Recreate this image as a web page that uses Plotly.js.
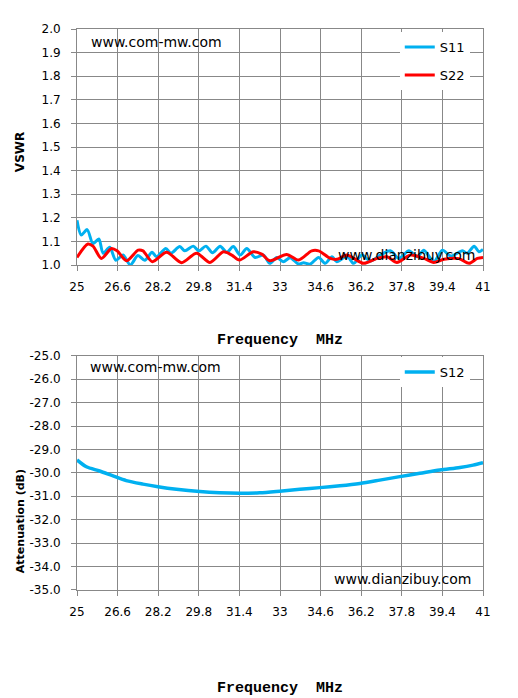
<!DOCTYPE html>
<html>
<head>
<meta charset="utf-8">
<script src="https://cdn.plot.ly/plotly-3.0.1.min.js"></script>
<style>html,body{margin:0;padding:0;background:#fff;}#chart{width:518px;height:698px;}</style>
</head>
<body>
<div id="chart"></div>
<script>
// Frequency tick labels (MHz)
const freqTicks = [25, 26.6, 28.2, 29.8, 31.4, 33, 34.6, 36.2, 37.8, 39.4, 41];
const freqTickText = ["25","26.6","28.2","29.8","31.4","33","34.6","36.2","37.8","39.4","41"];

// VSWR S11
const s11Freq = [25,25.17,25.4,25.63,25.86,26.03,26.29,26.53,26.82,27.1,27.4,27.67,27.96,28.13,28.5,28.7,29.05,29.25,29.58,29.8,30.08,30.34,30.64,30.9,31.16,31.43,31.69,32.02,32.35,32.6,32.87,33.13,33.4,33.73,33.93,34.19,34.52,34.78,35.05,35.24,35.64,35.9,36.23,36.56,36.96,37.35,37.68,38.08,38.41,38.67,39.06,39.4,39.73,40.19,40.38,40.65,40.84,41];
const s11Vswr = [1.19,1.127,1.15,1.09,1.11,1.05,1.075,1.02,1.042,1.0,1.04,1.02,1.054,1.035,1.07,1.05,1.078,1.06,1.08,1.06,1.08,1.052,1.08,1.054,1.078,1.042,1.07,1.032,1.042,1.007,1.032,1.014,1.031,1.004,1.01,1.004,1.032,1.007,1.035,1.014,1.038,1.007,1.042,1.017,1.042,1.06,1.028,1.06,1.035,1.063,1.014,1.063,1.038,1.06,1.05,1.08,1.056,1.066];

// VSWR S22
const s22Freq = [25,25.43,25.63,25.96,26.36,26.58,26.95,27.41,27.6,27.97,28.53,29.12,29.71,30.24,30.77,31.1,31.4,31.95,32.28,32.6,33.26,33.73,34.25,34.52,34.98,35.24,35.64,36.3,36.82,37.22,37.61,38.14,38.67,39.06,39.46,40.05,40.45,40.78,41];
const s22Vswr = [1.032,1.089,1.08,1.028,1.07,1.06,1.018,1.063,1.06,1.014,1.054,1.01,1.05,1.011,1.056,1.042,1.021,1.056,1.046,1.018,1.045,1.021,1.06,1.06,1.028,1.024,1.042,1.007,1.028,1.035,1.011,1.042,1.028,1.011,1.024,1.027,1.007,1.028,1.032];

// Attenuation S12 (dB)
const s12Freq = [25,25.37,25.89,26.42,26.94,27.6,28.19,28.92,29.84,30.62,31.41,32.2,32.99,33.78,34.57,35.36,36.15,36.93,37.72,38.51,39.3,40.09,40.61,41];
const s12Atten = [-29.45,-29.74,-29.92,-30.13,-30.33,-30.48,-30.59,-30.70,-30.80,-30.85,-30.87,-30.85,-30.78,-30.70,-30.63,-30.55,-30.45,-30.31,-30.16,-30.02,-29.88,-29.77,-29.67,-29.57];

// Y tick labels
const vswrTicks = [1.0,1.1,1.2,1.3,1.4,1.5,1.6,1.7,1.8,1.9,2.0];
const vswrTickText = ["1.0","1.1","1.2","1.3","1.4","1.5","1.6","1.7","1.8","1.9","2.0"];
const attTicks = [-35,-34,-33,-32,-31,-30,-29,-28,-27,-26,-25];
const attTickText = ["-35.0","-34.0","-33.0","-32.0","-31.0","-30.0","-29.0","-28.0","-27.0","-26.0","-25.0"];

const BLUE = "#00B0F0", RED = "#FF0000", GRID = "#888888";
const tickFont = {family: "DejaVu Sans", size: 12, color: "#000"};
const titleFont = {family: "Liberation Mono", size: 15, color: "#000", weight: "bold"};
const noteFont = {family: "DejaVu Sans", size: 14, color: "#000"};

const traces = [
  {x: s11Freq, y: s11Vswr, name: "S11", type: "scatter", mode: "lines", line: {color: BLUE, width: 3, shape: "spline", smoothing: 0.8}, xaxis: "x", yaxis: "y", legend: "legend"},
  {x: s22Freq, y: s22Vswr, name: "S22", type: "scatter", mode: "lines", line: {color: RED, width: 3, shape: "spline", smoothing: 0.8}, xaxis: "x", yaxis: "y", legend: "legend2"},
  {x: s12Freq, y: s12Atten, name: "S12", type: "scatter", mode: "lines", line: {color: BLUE, width: 3.5, shape: "spline", smoothing: 0.8}, xaxis: "x2", yaxis: "y2", legend: "legend3"}
];

function xAxis(anchor, standoff) {
  return {
    anchor: anchor, range: [25, 41], tickvals: freqTicks, ticktext: freqTickText,
    showgrid: true, gridcolor: GRID, gridwidth: 1, zeroline: false,
    showline: true, linecolor: GRID, linewidth: 1, mirror: true,
    ticks: "outside", ticklen: 5, tickcolor: GRID, ticklabelstandoff: 6,
    tickfont: tickFont, domain: [0, 1], automargin: false,
    title: {text: "Frequency&nbsp;&nbsp;MHz", font: titleFont, standoff: standoff}
  };
}
function yAxis(domain, range, vals, text) {
  return {
    domain: domain, range: range, tickvals: vals, ticktext: text,
    showgrid: true, gridcolor: GRID, zeroline: false,
    showline: true, linecolor: GRID, mirror: true,
    ticks: "outside", ticklen: 5, tickcolor: GRID, ticklabelstandoff: 8,
    tickfont: tickFont
  };
}

const legendBase = {bgcolor: "#fff", borderwidth: 0, font: {family: "DejaVu Sans", size: 13, color: "#000"}, xanchor: "left", yanchor: "middle", tracegroupgap: 0};

const layout = {
  width: 518, height: 698,
  margin: {l: 77, r: 35, t: 29, b: 108},
  paper_bgcolor: "#fff", plot_bgcolor: "#fff",
  showlegend: true,
  xaxis: xAxis("y", 40),
  xaxis2: xAxis("y2", 63),
  yaxis: yAxis([0.5793, 1], [1.0, 2.0], vswrTicks, vswrTickText),
  yaxis2: yAxis([0, 0.4176], [-35, -25], attTicks, attTickText),
  legend: Object.assign({}, legendBase, {x: 0.795, y: 0.968}),
  legend2: Object.assign({}, legendBase, {x: 0.795, y: 0.918}),
  legend3: Object.assign({}, legendBase, {x: 0.795, y: 0.3886}),
  annotations: [
    {text: "<b>VSWR</b>", xref: "paper", yref: "paper", x: -0.14, y: (590 - 152) / 561, xanchor: "center", yanchor: "middle", textangle: -90, showarrow: false, font: {family: "DejaVu Sans", size: 12, color: "#000"}},
    {text: "<b>Attenuation (dB)</b>", xref: "paper", yref: "paper", x: -0.14, y: (590 - 521) / 561, xanchor: "center", yanchor: "middle", textangle: -90, showarrow: false, font: {family: "DejaVu Sans", size: 11, color: "#000"}},
    {text: "www.com-mw.com", xref: "x", yref: "y", x: 25.46, y: 1.945, xanchor: "left", yanchor: "middle", showarrow: false, font: noteFont},
    {text: "www.dianzibuy.com", xref: "x", yref: "y", x: 35.22, y: 1.042, xanchor: "left", yanchor: "middle", showarrow: false, font: noteFont},
    {text: "www.com-mw.com", xref: "x2", yref: "y2", x: 25.42, y: -25.48, xanchor: "left", yanchor: "middle", showarrow: false, font: noteFont},
    {text: "www.dianzibuy.com", xref: "x2", yref: "y2", x: 35.04, y: -34.52, xanchor: "left", yanchor: "middle", showarrow: false, font: noteFont}
  ]
};

Plotly.newPlot("chart", traces, layout, {displayModeBar: false, staticPlot: true});
</script>
</body>
</html>
